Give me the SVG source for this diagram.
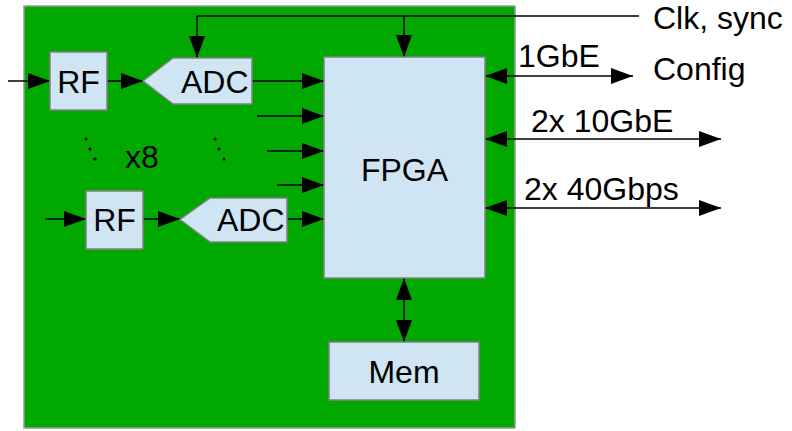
<svg xmlns="http://www.w3.org/2000/svg" width="792" height="431" viewBox="0 0 792 431">
<defs>
<marker id="ah" markerUnits="userSpaceOnUse" markerWidth="24" markerHeight="17" refX="22" refY="8" orient="auto-start-reverse">
<path d="M0,0 L22,8 L0,16 z" fill="#000"/>
</marker>
<style>
.box{fill:#cfe5f3;stroke:#808080;stroke-width:1.5}
.t{font-family:"Liberation Sans",Arial,sans-serif;font-size:32px;fill:#000}
.c{text-anchor:middle}
.ln{stroke:#000;stroke-width:1.5;fill:none}
.a{marker-end:url(#ah)}
.b{marker-start:url(#ah);marker-end:url(#ah)}
</style>
</defs>
<rect width="792" height="431" fill="#fff"/>
<g id="board"><rect x="24" y="6" width="491" height="422" fill="#00a800" stroke="#999" stroke-width="1.5"/></g>
<g id="connectors">
<polyline class="ln" points="639,16 197,16"/>
<line class="ln a" x1="197" y1="16" x2="197" y2="58"/>
<line class="ln a" x1="404" y1="16" x2="404" y2="57"/>
<line class="ln a" x1="8" y1="81" x2="50" y2="81"/>
<line class="ln a" x1="107" y1="81" x2="143" y2="81"/>
<line class="ln a" x1="252" y1="81" x2="324" y2="81"/>
<line class="ln a" x1="257" y1="116" x2="324" y2="116"/>
<line class="ln a" x1="267" y1="151" x2="324" y2="151"/>
<line class="ln a" x1="277" y1="185" x2="324" y2="185"/>
<line class="ln a" x1="45" y1="219" x2="86" y2="219"/>
<line class="ln a" x1="143" y1="219" x2="180" y2="219"/>
<line class="ln a" x1="287" y1="219" x2="324" y2="219"/>
<line class="ln b" x1="485" y1="76" x2="633" y2="76"/>
<line class="ln b" x1="485" y1="139" x2="721" y2="139"/>
<line class="ln b" x1="485" y1="208" x2="721" y2="208"/>
<line class="ln b" x1="404" y1="278" x2="404" y2="342"/>
</g>
<g id="rf1"><rect class="box" x="50" y="52" width="57" height="58"/><text class="t c" x="78.5" y="93">RF</text></g>
<g id="adc1"><polygon class="box" points="143,81 173,58 252,58 252,104 173,104"/><text class="t" x="181" y="93">ADC</text></g>
<g id="rf2"><rect class="box" x="86" y="191" width="57" height="58"/><text class="t c" x="114.5" y="231">RF</text></g>
<g id="adc2"><polygon class="box" points="180,219.5 210,198 287,198 287,242 210,242"/><text class="t" x="217" y="231">ADC</text></g>
<g id="fpga"><rect class="box" x="324" y="57" width="161" height="221"/><text class="t c" x="404.5" y="181">FPGA</text></g>
<g id="mem"><rect class="box" x="329" y="342" width="150" height="58"/><text class="t c" x="404" y="383">Mem</text></g>
<g id="dots" fill="#000">
<circle cx="86" cy="139" r="1.6"/><circle cx="90" cy="149" r="1.6"/><circle cx="95" cy="159" r="1.6"/>
<circle cx="215" cy="139" r="1.6"/><circle cx="219" cy="149" r="1.6"/><circle cx="224" cy="159" r="1.6"/>
</g>
<g id="labels">
<text class="t" x="125" y="168">x8</text>
<text class="t" x="653" y="29">Clk, sync</text>
<text class="t" x="518" y="67">1GbE</text>
<text class="t" x="653" y="80">Config</text>
<text class="t" x="531" y="132">2x 10GbE</text>
<text class="t" x="524" y="200">2x 40Gbps</text>
</g>
</svg>
